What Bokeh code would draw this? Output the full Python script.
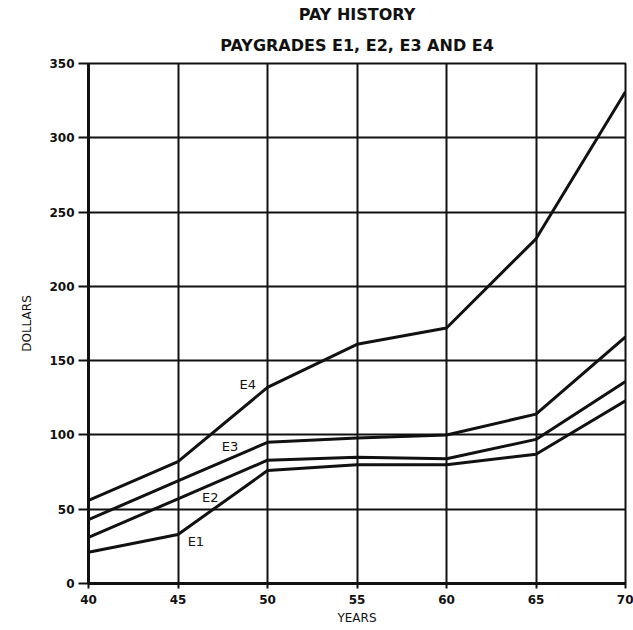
from bokeh.plotting import figure
from bokeh.models import Range1d, FixedTicker, Title, ColumnDataSource
from bokeh.core.properties import value
from bokeh.embed import file_html
from bokeh.resources import INLINE

# ---- data ----
years = [40, 45, 50, 55, 60, 65, 70]
e1 = [21, 33, 76, 80, 80, 87, 123]
e2 = [31, 57, 83, 85, 84, 97, 136]
e3 = [43, 69, 95, 98, 100, 114, 166]
e4 = [56, 82, 132, 161, 172, 232, 331]
series_names = ["E1", "E2", "E3", "E4"]
label_x = [46.0, 46.8, 47.9, 48.9]
label_y = [28, 58, 92, 134]
x_ticks = [40, 45, 50, 55, 60, 65, 70]
y_ticks = [0, 50, 100, 150, 200, 250, 300, 350]
title_lines = ["PAY HISTORY", "PAYGRADES E1, E2, E3 AND E4"]

FONT = "DejaVu Sans"

p = figure(width=633, height=630, output_backend="svg", toolbar_location=None,
           x_range=Range1d(40, 70), y_range=Range1d(0, 350),
           min_border_left=88, min_border_right=8, min_border_top=63, min_border_bottom=47)

p.title = None
p.add_layout(Title(text=title_lines[1], align="center", text_font=FONT,
                   text_font_size="16px", text_font_style="bold",
                   text_color="#111111", standoff=17, text_line_height=1.0), "above")
p.add_layout(Title(text=title_lines[0], align="center", text_font=FONT,
                   text_font_size="16px", text_font_style="bold",
                   text_color="#111111", standoff=4, text_line_height=1.0), "above")

p.background_fill_color = "white"
p.border_fill_color = "white"
p.outline_line_color = "#111111"
p.outline_line_width = 2

for ax in (p.xaxis, p.yaxis):
    ax.axis_line_color = "#111111"
    ax.axis_line_width = 3
    ax.major_tick_line_color = "#111111"
    ax.major_tick_line_width = 2
    ax.minor_tick_line_color = None
    ax.major_tick_in = 0
    ax.major_label_text_font = FONT
    ax.major_label_text_font_style = "bold"
    ax.major_label_text_font_size = "12px"
    ax.major_label_text_color = "#111111"
    ax.axis_label_text_font = FONT
    ax.axis_label_text_font_style = "normal"
    ax.axis_label_text_font_size = "12px"
    ax.axis_label_text_color = "#111111"

p.xaxis.ticker = FixedTicker(ticks=x_ticks)
p.yaxis.ticker = FixedTicker(ticks=y_ticks)
p.xaxis.major_tick_out = 5
p.yaxis.major_tick_out = 10
p.xaxis.major_label_standoff = 6
p.yaxis.major_label_standoff = 4
p.xaxis.axis_label = "YEARS"
p.yaxis.axis_label = "DOLLARS"
p.xaxis.axis_label_standoff = 4
p.yaxis.axis_label_standoff = 12

p.xgrid.ticker = FixedTicker(ticks=x_ticks)
p.ygrid.ticker = FixedTicker(ticks=y_ticks)
for g in (p.xgrid, p.ygrid):
    g.grid_line_color = "#111111"
    g.grid_line_width = 2
    g.grid_line_alpha = 1.0

for ys in (e1, e2, e3, e4):
    p.line(years, ys, line_color="#111111", line_width=3)

src = ColumnDataSource(dict(x=label_x, y=label_y, t=series_names))
p.text(x="x", y="y", text="t", source=src, text_font=value(FONT),
       text_font_size="13px", text_color="#111111",
       text_align="center", text_baseline="middle")

open("out.html", "w").write(file_html(p, INLINE))
